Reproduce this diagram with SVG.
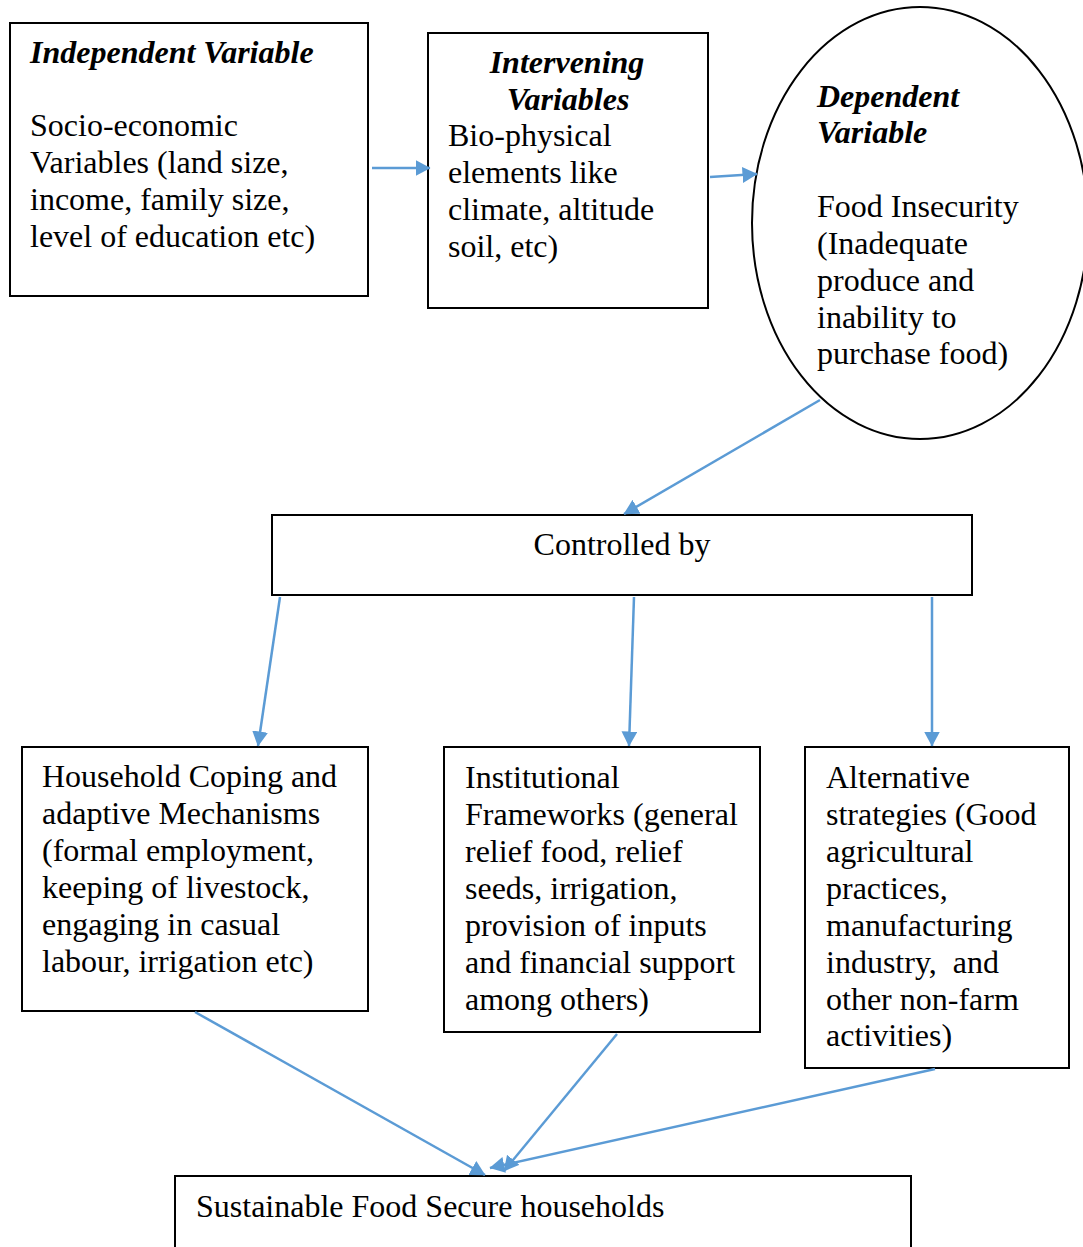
<svg xmlns="http://www.w3.org/2000/svg" width="1083" height="1247" viewBox="0 0 1083 1247">
<style>
.box{fill:#fff;stroke:#000;stroke-width:2}
.t{font-family:'Liberation Serif','Times New Roman','DejaVu Serif',serif;font-size:32px;fill:#000}
.h{font-weight:bold;font-style:italic}
.c{stroke:#5B9BD5;stroke-width:2.5;fill:none}
</style>
<defs>
<marker id="ah" viewBox="0 0 15 16" refX="14.5" refY="8" markerWidth="15" markerHeight="16" orient="auto" markerUnits="userSpaceOnUse">
<path d="M0,0 L15,8 L0,16 z" fill="#5B9BD5"/>
</marker>
</defs>
<rect width="1083" height="1247" fill="#fff"/>
<g id="independent">
<rect class="box" x="10" y="23" width="358" height="273"/>
<text class="t h" x="30" y="63">Independent Variable</text>
<text class="t" x="30" y="136">Socio-economic</text>
<text class="t" x="30" y="173">Variables (land size,</text>
<text class="t" x="30" y="210">income, family size,</text>
<text class="t" x="30" y="247">level of education etc)</text>
</g>
<g id="intervening">
<rect class="box" x="428" y="33" width="280" height="275"/>
<text class="t h" x="567" y="73" text-anchor="middle">Intervening</text>
<text class="t h" x="568" y="110" text-anchor="middle">Variables</text>
<text class="t" x="448" y="146">Bio-physical</text>
<text class="t" x="448" y="183">elements like</text>
<text class="t" x="448" y="220">climate, altitude</text>
<text class="t" x="448" y="257">soil, etc)</text>
</g>
<g id="dependent">
<ellipse class="box" cx="920" cy="223" rx="168" ry="216"/>
<text class="t h" x="817" y="107">Dependent</text>
<text class="t h" x="817" y="143">Variable</text>
<text class="t" x="817" y="217">Food Insecurity</text>
<text class="t" x="817" y="254">(Inadequate</text>
<text class="t" x="817" y="291">produce and</text>
<text class="t" x="817" y="328">inability to</text>
<text class="t" x="817" y="364">purchase food)</text>
</g>
<g id="controlled">
<rect class="box" x="272" y="515" width="700" height="80"/>
<text class="t" x="622" y="555" text-anchor="middle">Controlled by</text>
</g>
<g id="household">
<rect class="box" x="22" y="747" width="346" height="264"/>
<text class="t" x="42" y="787">Household Coping and</text>
<text class="t" x="42" y="824">adaptive Mechanisms</text>
<text class="t" x="42" y="861">(formal employment,</text>
<text class="t" x="42" y="898">keeping of livestock,</text>
<text class="t" x="42" y="935">engaging in casual</text>
<text class="t" x="42" y="972">labour, irrigation etc)</text>
</g>
<g id="institutional">
<rect class="box" x="444" y="747" width="316" height="285"/>
<text class="t" x="465" y="788">Institutional</text>
<text class="t" x="465" y="825">Frameworks (general</text>
<text class="t" x="465" y="862">relief food, relief</text>
<text class="t" x="465" y="899">seeds, irrigation,</text>
<text class="t" x="465" y="936">provision of inputs</text>
<text class="t" x="465" y="973">and financial support</text>
<text class="t" x="465" y="1010">among others)</text>
</g>
<g id="alternative">
<rect class="box" x="805" y="747" width="264" height="321"/>
<text class="t" x="826" y="788">Alternative</text>
<text class="t" x="826" y="825">strategies (Good</text>
<text class="t" x="826" y="862">agricultural</text>
<text class="t" x="826" y="899">practices,</text>
<text class="t" x="826" y="936">manufacturing</text>
<text class="t" x="826" y="973" xml:space="preserve">industry,  and</text>
<text class="t" x="826" y="1010">other non-farm</text>
<text class="t" x="826" y="1046">activities)</text>
</g>
<g id="sustainable">
<rect class="box" x="175" y="1176" width="736" height="90"/>
<text class="t" x="196" y="1217">Sustainable Food Secure households</text>
</g>
<g id="connectors">
<line class="c" x1="372" y1="168" x2="430" y2="168" marker-end="url(#ah)"/>
<line class="c" x1="710" y1="177" x2="757" y2="174" marker-end="url(#ah)"/>
<line class="c" x1="820" y1="400" x2="624" y2="514" marker-end="url(#ah)"/>
<line class="c" x1="280" y1="597" x2="258" y2="746" marker-end="url(#ah)"/>
<line class="c" x1="634" y1="597" x2="629" y2="746" marker-end="url(#ah)"/>
<line class="c" x1="932" y1="597" x2="932" y2="746" marker-end="url(#ah)"/>
<line class="c" x1="195" y1="1012" x2="485" y2="1175" marker-end="url(#ah)"/>
<line class="c" x1="617" y1="1034" x2="504" y2="1171" marker-end="url(#ah)"/>
<line class="c" x1="935" y1="1069" x2="490" y2="1168" marker-end="url(#ah)"/>
</g>
</svg>
